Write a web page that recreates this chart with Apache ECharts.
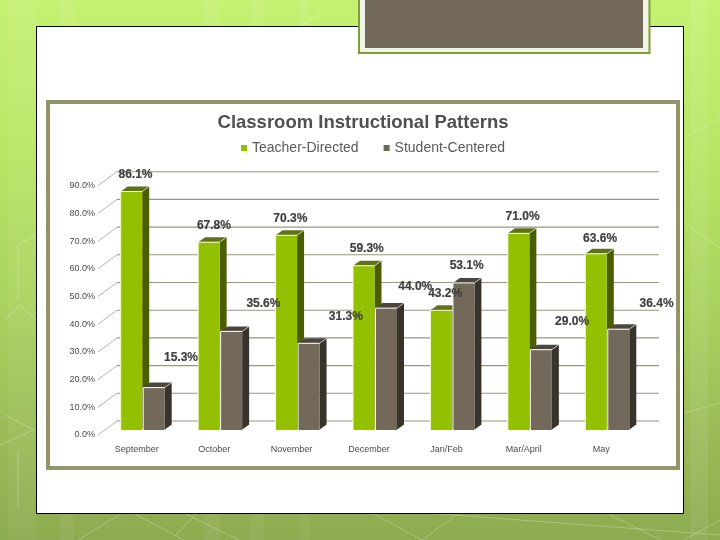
<!DOCTYPE html>
<html><head><meta charset="utf-8">
<style>html,body{margin:0;padding:0;background:#fff}#c{width:720px;height:540px}</style>
<script src="https://cdn.jsdelivr.net/npm/echarts@6/dist/echarts.min.js"></script>
</head><body><div id="c"></div>
<script>
const categories = ['September','October','November','December','Jan/Feb','Mar/April','May'];
const teacherDirected = [86.1,67.8,70.3,59.3,43.2,71.0,63.6];
const studentCentered = [15.3,35.6,31.3,44.0,53.1,29.0,36.4];
const yTicks = [0,10,20,30,40,50,60,70,80,90];
const titleText = 'Classroom Instructional Patterns';

// hand-placed label displacement from the top of each bar, as in the reference
const teacherNudge = [[4,-17],[5,-17],[4,-17],[3,-17],[4,-17],[4,-17],[4,-15]];
const studentNudge = [[27,-30],[32,-28],[37,-27],[29,-21],[3,-17],[31,-28],[38,-25]];

const FONT = '"Liberation Sans", Arial, sans-serif';
const BW = 21.5, DX = 7, DY = 5, OX = 6, OY = -5;
const BACK_X = 19, BACK_Y = -14;

function barGeom(api, side) {
  const i = api.value(0), v = api.value(1);
  const base = api.coord([i, 0]), top = api.coord([i, v]);
  const cx = base[0] + OX;
  const x0 = side < 0 ? cx - BW - 0.5 : cx + 0.5;
  return {i, v, x0, x1: x0 + BW, yb: base[1] + OY, yt: top[1] + OY};
}

function barItem(side, colors) {
  return function (params, api) {
    const {x0, x1, yb, yt} = barGeom(api, side);
    return {type:'group', children:[
      {type:'polygon', shape:{points:[[x1,yt],[x1+DX,yt-DY],[x1+DX,yb-DY],[x1,yb]]}, style:{fill:colors.side}},
      {type:'polygon', shape:{points:[[x0,yt],[x0+DX,yt-DY],[x1+DX,yt-DY],[x1,yt]]}, style:{fill:colors.top}},
      {type:'rect', shape:{x:x0,y:yt,width:BW,height:yb-yt}, style:{fill:colors.front}},
      {type:'polyline', shape:{points:[[x0,yb],[x0,yt],[x1,yt]]}, style:{fill:null,stroke:colors.edge,lineWidth:1}},
      {type:'line', shape:{x1:x1,y1:yt,x2:x1+DX,y2:yt-DY}, style:{stroke:'#ffffff',lineWidth:0.7,opacity:0.8}},
      {type:'line', shape:{x1:x1,y1:yb,x2:x1+DX,y2:yb-DY}, style:{stroke:'#ffffff',lineWidth:0.8}}
    ]};
  };
}

function labelItem(side, nudge) {
  return function (params, api) {
    const {i, v, x0, x1, yt} = barGeom(api, side);
    const n = nudge[i];
    return {type:'text', style:{x:(x0+x1)/2+n[0], y:yt+n[1], text:v.toFixed(1)+'%', align:'center', verticalAlign:'middle',
      fill:'#3f3f3f', font:'bold 12px '+FONT, stroke:'#3f3f3f', lineWidth:0.2}};
  };
}

function gridItem(params, api) {
  const v = api.value(0);
  const p = api.coord([0, v]);
  const x0 = params.coordSys.x, y = p[1];
  const xe = x0 + params.coordSys.width + BACK_X;
  return {type:'group', children:[
    {type:'line', shape:{x1:x0,y1:y,x2:x0+BACK_X,y2:y+BACK_Y}, style:{stroke:'#a2a296',lineWidth:0.8}},
    {type:'line', shape:{x1:x0+BACK_X,y1:y+BACK_Y,x2:xe,y2:y+BACK_Y}, style:{stroke:'#97977e',lineWidth:1.1}}
  ]};
}

const decor = [];
[[8,28,.05],[60,14,.06],[204,16,.06],[250,14,.06],[690,18,.07],[300,10,.05]].forEach(s=>{
  decor.push({type:'rect',z:0,shape:{x:s[0],y:0,width:s[1],height:540},style:{fill:'rgba(255,255,255,'+s[2]+')'}});
});
[[5,415,34,430],[0,445,34,430],[18,450,18,507],[18,245,36,235],[18,245,18,300],[5,320,20,305],[20,305,36,320],
 [184,513,239,540],[197,513,174,537],[133,513,184,540],[119,515,78,540],[372,513,422,540],[459,513,422,540],
 [427,513,720,535],[610,515,661,540],[720,520,684,540],[684,413,720,403],[685,137,720,118],[685,223,720,248],
 [300,26,320,14]].forEach(l=>{
  decor.push({type:'line',z:0,shape:{x1:l[0],y1:l[1],x2:l[2],y2:l[3]},style:{stroke:'rgba(255,255,255,.25)',lineWidth:1}});
});

const chart = echarts.init(document.getElementById('c'), null, {renderer:'canvas'});
chart.setOption({
  animation:false,
  backgroundColor:{type:'linear',x:0,y:0,x2:0,y2:1,colorStops:[
    {offset:0,color:'#c6f274'},{offset:.3,color:'#b8e565'},{offset:.6,color:'#a8cf5e'},{offset:.8,color:'#9bbc58'},{offset:1,color:'#8dab50'}]},
  graphic:[...decor,
    {type:'rect',z:1,shape:{x:36.5,y:26.5,width:647,height:487},style:{fill:'#fff',stroke:'#000',lineWidth:1}},
    {type:'rect',z:2,shape:{x:359,y:-6,width:290.5,height:59},style:{fill:'#eef3e6',stroke:'#7f9f35',lineWidth:2}},
    {type:'rect',z:3,shape:{x:365,y:-6,width:278,height:54},style:{fill:'#72695a'}},
    {type:'rect',z:2,shape:{x:48,y:102,width:630,height:366},style:{fill:'#fff',stroke:'#94946a',lineWidth:4}}
  ],
  title:{text:titleText,left:358,top:108,textAlign:'center',z:10,
    textStyle:{fontFamily:FONT,fontWeight:'bold',fontSize:18.5,color:'#505050'}},
  legend:{left:236,top:136,z:10,itemWidth:6,itemHeight:6,itemGap:25,icon:'rect',
    data:['Teacher-Directed','Student-Centered'],
    textStyle:{fontFamily:FONT,fontSize:14,color:'#5a5a5a'}},
  grid:{left:98,width:542,top:185.7,height:249.3,containLabel:false,z:5},
  xAxis:{type:'category',data:categories,z:6,axisLine:{show:false},axisTick:{show:false},splitLine:{show:false},
    axisLabel:{fontFamily:FONT,fontSize:9,color:'#4a4a4a',margin:10,interval:0}},
  yAxis:{type:'value',min:0,max:90,interval:10,z:6,axisLine:{show:false},axisTick:{show:false},splitLine:{show:false},
    axisLabel:{fontFamily:FONT,fontSize:9,color:'#4a4a4a',margin:3,formatter:v=>v.toFixed(1)+'%'}},
  series:[
    {type:'custom',name:'grid',silent:true,z:4,renderItem:gridItem,data:yTicks.map(v=>[v]),encode:{y:0},clip:false},
    {type:'custom',name:'Teacher-Directed',z:5,clip:false,itemStyle:{color:'#92bf00'},
      renderItem:barItem(-1,{front:'#93c000',side:'#4a5d00',top:'#5f7410',edge:'#f4fbc8'}),
      data:teacherDirected.map((v,i)=>[i,v]),encode:{x:0,y:1}},
    {type:'custom',name:'Student-Centered',z:6,clip:false,itemStyle:{color:'#6f6758'},
      renderItem:barItem(1,{front:'#72695a',side:'#38332b',top:'#4c463d',edge:'#ffffff'}),
      data:studentCentered.map((v,i)=>[i,v]),encode:{x:0,y:1}},
    {type:'custom',name:'teacherLabels',silent:true,z:8,clip:false,renderItem:labelItem(-1,teacherNudge),
      data:teacherDirected.map((v,i)=>[i,v]),encode:{x:0,y:1}},
    {type:'custom',name:'studentLabels',silent:true,z:8,clip:false,renderItem:labelItem(1,studentNudge),
      data:studentCentered.map((v,i)=>[i,v]),encode:{x:0,y:1}}
  ]
});
</script></body></html>
